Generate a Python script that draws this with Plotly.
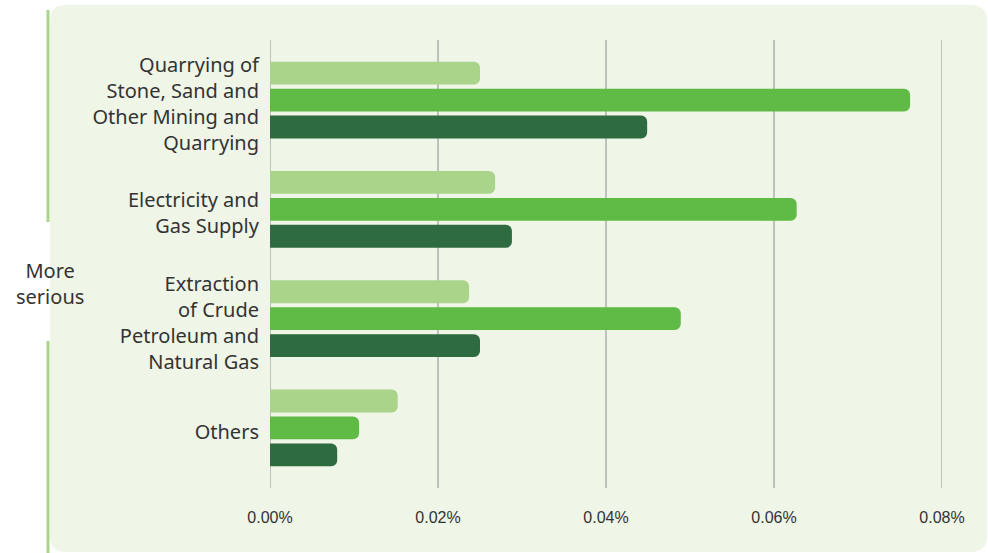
import plotly.graph_objects as go

categories = [
    "Quarrying of<br>Stone, Sand and<br>Other Mining and<br>Quarrying",
    "Electricity and<br>Gas Supply",
    "Extraction<br>of Crude<br>Petroleum and<br>Natural Gas",
    "Others",
]
series_a = [0.0250, 0.0268, 0.0237, 0.0152]
series_b = [0.0762, 0.0627, 0.0489, 0.0106]
series_c = [0.0449, 0.0288, 0.0250, 0.0080]
colors = ["#a9d48a", "#5fba46", "#2f6b40"]
tick_vals = [0, 0.02, 0.04, 0.06, 0.08]
tick_text = ["0.00%", "0.02%", "0.04%", "0.06%", "0.08%"]

W, H = 988, 553
ml, mr, mt, mb = 270, 46, 40, 65
pw, ph = W - ml - mr, H - mt - mb

def px(x):
    return (x - ml) / pw

def py(y):
    return 1 - (y - mt) / ph

fig = go.Figure()
for vals, col in zip([series_a, series_b, series_c], colors):
    fig.add_trace(go.Bar(
        y=categories, x=vals, orientation="h",
        marker=dict(color=col, line=dict(width=0), cornerradius=6),
        hoverinfo="x+y", showlegend=False,
    ))

# rounded background panel
x0, x1, y0, y1, r = 50, 987, 5, 552, 16
rx, ry = r / pw, r / ph
X0, X1, Y0, Y1 = px(x0), px(x1), py(y0), py(y1)
path = (f"M {X0+rx},{Y0} L {X1-rx},{Y0} Q {X1},{Y0} {X1},{Y0-ry} "
        f"L {X1},{Y1+ry} Q {X1},{Y1} {X1-rx},{Y1} "
        f"L {X0+rx},{Y1} Q {X0},{Y1} {X0},{Y1+ry} "
        f"L {X0},{Y0-ry} Q {X0},{Y0} {X0+rx},{Y0} Z")
fig.add_shape(type="path", path=path, xref="paper", yref="paper",
              fillcolor="#eff5e7", line=dict(width=0), layer="below")

# vertical gridlines (including the edges of the range)
for tv in tick_vals:
    fig.add_shape(type="line", xref="x", yref="paper", x0=tv, x1=tv, y0=0, y1=1,
                  line=dict(color="#8e8e8e", width=1), layer="below")

# left bracket line
for a, b in [(10, 222), (341, 553)]:
    fig.add_shape(type="line", xref="paper", yref="paper",
                  x0=px(48), x1=px(48), y0=py(a), y1=py(b),
                  line=dict(color="#a9d48a", width=3), layer="below")

fig.add_annotation(text="More<br>serious", xref="paper", yref="paper",
                   x=px(50), y=py(283), showarrow=False, xanchor="center", yanchor="middle",
                   font=dict(family="Noto Sans", size=20, color="#333333"))

fig.update_layout(
    width=W, height=H,
    margin=dict(l=ml, r=mr, t=mt, b=mb),
    paper_bgcolor="white", plot_bgcolor="rgba(0,0,0,0)",
    barmode="group", bargap=0.26, bargroupgap=0.15,
    font=dict(family="Noto Sans", color="#333333"),
)
fig.update_xaxes(range=[0, 0.08], tickvals=tick_vals, ticktext=tick_text,
                 showgrid=False, zeroline=False, showline=False, ticks="",
                 tickfont=dict(family="Liberation Sans", size=16, color="#333333"),
                 ticklabelstandoff=18, fixedrange=True)
fig.update_yaxes(range=[3.55, -0.55], showgrid=False, zeroline=False, showline=False,
                 ticks="", tickfont=dict(family="Noto Sans", size=20, color="#333333"),
                 ticklabelstandoff=10, ticklabelshift=-4, fixedrange=True)

fig.write_html("out.html")
